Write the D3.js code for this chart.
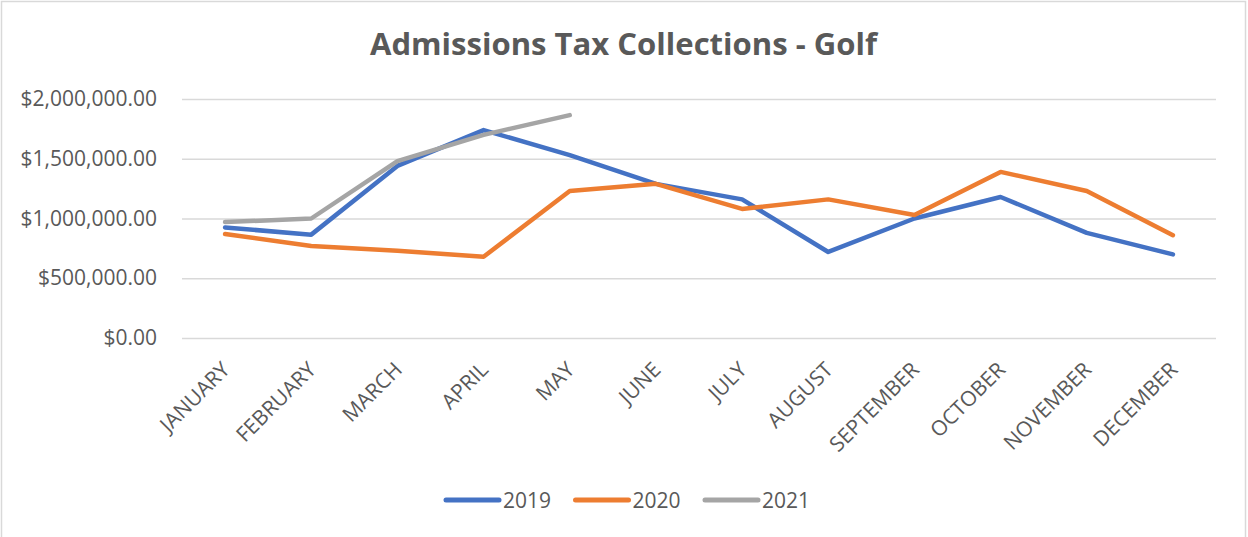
<!DOCTYPE html>
<html>
<head>
<meta charset="utf-8">
<script src="https://cdn.jsdelivr.net/npm/d3@7"></script>
<style>
  body { margin: 0; background: #fff; }
  svg { display: block; }
  text { font-family: "Open Sans", sans-serif; fill: #595959; }
</style>
</head>
<body>
<svg width="1248" height="537"></svg>
<script>
const months = ["JANUARY", "FEBRUARY", "MARCH", "APRIL", "MAY", "JUNE", "JULY",
  "AUGUST", "SEPTEMBER", "OCTOBER", "NOVEMBER", "DECEMBER"];
const years = ["2019", "2020", "2021"];
const colors = ["#4472C4", "#ED7D31", "#A5A5A5"];
const v2019 = [925000, 865000, 1440000, 1740000, 1530000, 1290000, 1160000, 720000, 1000000, 1180000, 880000, 700000];
const v2020 = [870000, 770000, 730000, 680000, 1230000, 1290000, 1080000, 1160000, 1030000, 1390000, 1230000, 860000];
const v2021 = [970000, 1000000, 1480000, 1700000, 1865000];
const yTicks = [0, 500000, 1000000, 1500000, 2000000];

const series = [v2019, v2020, v2021];

let sv = d3.select("svg");

sv.append("rect")
  .attr("x", 1.5).attr("y", 1.5)
  .attr("width", 1244).attr("height", 540)
  .attr("fill", "none").attr("stroke", "#D9D9D9").attr("stroke-width", 1.5);

sv.append("text")
  .attr("x", 623.5).attr("y", 55)
  .attr("text-anchor", "middle")
  .attr("font-size", 31).attr("font-weight", "bold")
  .attr("textLength", 507).attr("lengthAdjust", "spacingAndGlyphs")
  .text("Admissions Tax Collections - Golf");

const x = d3.scaleBand().domain(months).range([182, 1216]);
const y = d3.scaleLinear().domain([0, 2000000]).range([338, 99]);

const ya = sv.append("g")
  .attr("transform", "translate(182,0)")
  .call(d3.axisLeft(y).tickValues(yTicks).tickFormat(d3.format("$,.2f")).tickSize(-1034).tickPadding(25));
ya.select(".domain").remove();
ya.selectAll("line").attr("stroke", "#D9D9D9").attr("stroke-width", 1.5);
ya.selectAll("text").attr("font-size", 21).attr("fill", "#595959").attr("font-family", "Open Sans, sans-serif");

sv.append("g").selectAll("text")
  .data(months)
  .enter()
  .append("text")
  .attr("font-size", 21)
  .attr("text-anchor", "end")
  .attr("transform", function (m) {
    return "translate(" + (x(m) + x.bandwidth() / 2 + 6) + ",371) rotate(-45)";
  })
  .text(function (m) { return m; });

const line = d3.line()
  .x(function (d, i) { return x(months[i]) + x.bandwidth() / 2; })
  .y(function (d) { return y(d); });

sv.append("g").selectAll("path")
  .data(series)
  .enter()
  .append("path")
  .attr("d", function (s) { return line(s); })
  .attr("fill", "none")
  .attr("stroke", function (s, i) { return colors[i]; })
  .attr("stroke-width", 4.5)
  .attr("stroke-linejoin", "round")
  .attr("stroke-linecap", "round");

const lg = sv.append("g").selectAll("g")
  .data(years)
  .enter()
  .append("g")
  .attr("transform", function (d, i) { return "translate(" + (446 + i * 129.5) + ",500)"; });

lg.append("line")
  .attr("x1", 0).attr("x2", 53)
  .attr("stroke", function (d, i) { return colors[i]; })
  .attr("stroke-width", 5)
  .attr("stroke-linecap", "round");

lg.append("text")
  .attr("x", 57).attr("y", 7.5)
  .attr("font-size", 21)
  .text(function (d) { return d; });
</script>
</body>
</html>
